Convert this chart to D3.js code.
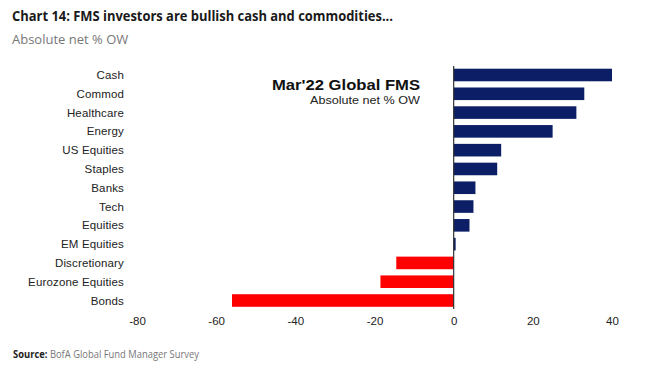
<!DOCTYPE html>
<html>
<head>
<meta charset="utf-8">
<script src="https://cdn.jsdelivr.net/npm/d3@7"></script>
<style>
  body { margin: 0; background: #fff; }
  svg { display: block; }
</style>
</head>
<body>
<svg id="chart" width="649" height="372"></svg>
<script>
// categories top to bottom
var categories = ["Cash", "Commod", "Healthcare", "Energy", "US Equities", "Staples", "Banks",
                  "Tech", "Equities", "EM Equities", "Discretionary", "Eurozone Equities", "Bonds"]
var values = [40, 33, 31, 25, 12, 11, 5.5, 5, 4, 0.5, -14.5, -18.5, -56]
var ticks = [-80, -60, -40, -20, 0, 20, 40]

var svg = d3.select("#chart")

var x = d3.scaleLinear().domain([-80, 40]).range([137, 612])
var y = d3.scaleBand().domain(categories).range([65.5, 310]).paddingInner(0.33).paddingOuter(0.17)

// squeeze or stretch text to the width measured on the reference
function fit(sel, w, stretch) {
  var len = sel.node().getComputedTextLength()
  if (len > w || stretch) sel.attr("textLength", w).attr("lengthAdjust", "spacingAndGlyphs")
}

var t = svg.append("text")
    .attr("x", 12).attr("y", 21)
    .attr("font-family", "Open Sans").attr("font-weight", 700)
    .attr("font-size", 15).attr("fill", "#1a1a1a")
    .text("Chart 14: FMS investors are bullish cash and commodities...")
fit(t, 381)

var st = svg.append("text")
    .attr("x", 12).attr("y", 44)
    .attr("font-family", "Open Sans").attr("font-size", 13).attr("fill", "#777")
    .text("Absolute net % OW")
fit(st, 123)

// bars
svg.selectAll("rect.bar")
  .data(categories)
  .join("rect")
    .attr("class", "bar")
    .attr("x", function(d, i) { return x(Math.min(0, values[i])) })
    .attr("y", function(d) { return y(d) })
    .attr("width", function(d, i) { return Math.abs(x(values[i]) - x(0)) })
    .attr("height", y.bandwidth())
    .attr("fill", function(d, i) { return values[i] < 0 ? "#ff0000" : "#0c1f66" })

// zero line
svg.append("line")
    .attr("x1", x(0)).attr("x2", x(0))
    .attr("y1", 66).attr("y2", 309)
    .attr("stroke", "#333").attr("stroke-width", 1.2)

// category labels
svg.selectAll("text.cat")
  .data(categories)
  .join("text")
    .attr("class", "cat")
    .attr("x", 124)
    .attr("y", function(d) { return y(d) + y.bandwidth() / 2 + 4 })
    .attr("text-anchor", "end")
    .attr("font-family", "Liberation Sans").attr("font-size", 11.5)
    .attr("letter-spacing", 0.15)
    .attr("fill", "#222")
    .text(function(d) { return d })

// x axis labels (no axis line in the original), plain hyphen minus
var axis = d3.axisBottom(x).tickValues(ticks).tickSize(0).tickPadding(0)
    .tickFormat(function(d) { return String(d) })
var g = svg.append("g").attr("transform", "translate(0,317)").call(axis)
g.select(".domain").remove()
g.selectAll("text")
    .attr("font-family", "Liberation Sans").attr("font-size", 11.5)
    .attr("fill", "#222").attr("dy", "0.71em")

// inner label
var it = svg.append("text")
    .attr("x", 272).attr("y", 90)
    .attr("font-family", "Liberation Sans").attr("font-weight", 700)
    .attr("font-size", 15.5).attr("fill", "#111")
    .text("Mar'22 Global FMS")
fit(it, 148, true)
var is = svg.append("text")
    .attr("x", 310).attr("y", 104)
    .attr("font-family", "Liberation Sans").attr("font-size", 11)
    .attr("fill", "#222")
    .text("Absolute net % OW")
fit(is, 110, true)

// source
var src = svg.append("text")
    .attr("x", 13).attr("y", 358)
    .attr("font-family", "Open Sans").attr("font-size", 10).attr("fill", "#777")
src.append("tspan").attr("font-weight", 700).attr("fill", "#222").text("Source: ")
src.append("tspan").text("BofA Global Fund Manager Survey")
fit(src, 186)
</script>
</body>
</html>
